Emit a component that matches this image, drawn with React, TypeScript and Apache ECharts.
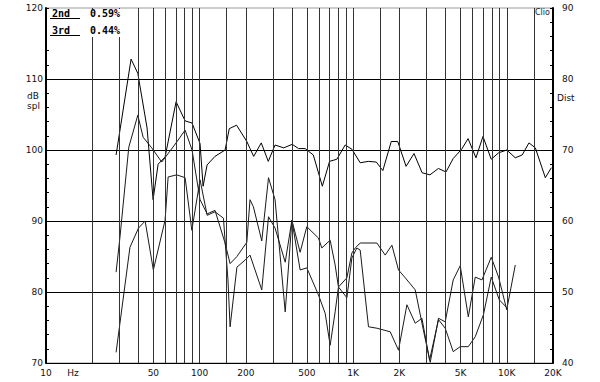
import React, { useEffect, useRef } from "react";
import * as echarts from "echarts";

// Frequency response (dB spl, left axis)
const respFreq = [28.6, 35.8, 39.6, 45.5, 49.8, 53.7, 59.6, 70.3, 80.5, 89.3, 100.7, 105.4, 111.9, 126, 146.6, 156, 174, 203, 213, 225, 252, 280, 310, 353, 401, 441, 487, 550, 630, 702, 783, 887, 982, 1111, 1255, 1415, 1560, 1770, 1950, 2210, 2490, 2810, 3160, 3590, 4020, 4480, 5080, 5600, 6300, 7000, 7920, 8850, 10000, 11360, 12600, 13950, 15350, 17830, 19500];
const respDb = [99.3, 112.8, 110.8, 103.1, 93, 98, 99, 106.8, 104.1, 103.8, 100.9, 94.9, 97.9, 99.1, 100, 103, 103.5, 101.2, 100.2, 99.1, 101, 98.4, 100.7, 100.3, 100.8, 100.2, 100.2, 99.3, 94.9, 98.4, 98.7, 100.7, 100.1, 98.2, 98.4, 98.3, 97.1, 101.2, 101.2, 97.7, 99.5, 96.8, 96.5, 97.4, 96.9, 98.8, 100.1, 101.6, 98.9, 101.9, 98.7, 99.6, 100, 98.9, 99.3, 101, 100.3, 96.1, 97.5];

// 2nd harmonic distortion (Dist, right axis)
const h2Freq = [28.6, 30.3, 34.6, 39.6, 42.9, 48.8, 56.7, 70.3, 80.5, 89.3, 100.7, 112, 126, 146, 158, 175, 203, 213, 224, 254, 281, 310, 361, 399, 451.5, 499, 594, 625, 708, 763, 802, 910, 981, 1057, 1111, 1258, 1427, 1742, 1973, 2238, 2535, 2803, 3142, 3595, 3974, 4480, 4977, 5620, 6234, 7050, 7924, 8938, 10000];
const h2Dist = [52.8, 57.7, 70.4, 74.9, 71.8, 70.3, 68.3, 71, 72.8, 70, 63, 61, 61.5, 57, 54, 55, 57, 63, 62, 57.2, 66.1, 63, 47.2, 60.1, 55.6, 59.2, 57.6, 56.2, 57.3, 53.8, 50.7, 49.2, 54.8, 56.2, 55.9, 45.1, 44.9, 44.4, 41.8, 48.2, 45.6, 46.3, 40.4, 46.1, 44.9, 41.6, 42.3, 42.3, 43.7, 46.8, 52.1, 48.9, 47.8];

// 3rd harmonic distortion (Dist, right axis)
const h3Freq = [28.6, 30.3, 35.2, 40, 44.2, 50, 59.6, 62.4, 71, 80.5, 89, 100.7, 112, 126, 143, 153, 158, 175, 198, 213, 254, 281, 310, 361, 399, 451.5, 499, 594, 657, 708, 763, 802, 910, 981, 1031, 1111, 1427, 1616, 1787, 1973, 2183, 2535, 2860, 3175, 3595, 3974, 4480, 4977, 5620, 6234, 6893, 7924, 8843, 10000, 11360];
const h3Dist = [41.5, 45.6, 56.3, 59, 60, 53.1, 60.1, 66.2, 66.5, 66.1, 58.7, 65.8, 60.8, 61.3, 60.4, 51.7, 45.1, 53.5, 54.5, 55.2, 50.3, 60.6, 59, 54.2, 60.1, 53.1, 53.4, 49.6, 47, 42.5, 47.2, 50.7, 52, 55.5, 56.2, 56.9, 56.9, 55.2, 56.6, 53.1, 52, 50.3, 44.7, 40.1, 46.3, 45.8, 51.7, 53.7, 46.5, 52.1, 51.7, 54.9, 52.1, 47.5, 53.8];

// Axis ticks / labels
const gridFreqs = [20, 30, 40, 50, 60, 70, 80, 90, 100, 150, 200, 300, 400, 500, 600, 700, 800, 900, 1000, 1500, 2000, 3000, 4000, 5000, 6000, 7000, 8000, 9000, 10000, 15000];
const freqLabelValues = [10, 15, 50, 100, 200, 500, 1000, 2000, 5000, 10000, 20000];
const freqLabelTexts = ["10", "Hz", "50", "100", "200", "500", "1K", "2K", "5K", "10K", "20K"];
const legendNames = ["2nd", "3rd"];
const legendValues = ["0.59%", "0.44%"];

export default function App() {
  const ref = useRef<HTMLDivElement>(null);
  useEffect(() => {
    const chart = echarts.init(ref.current!, null, { renderer: "svg" });
    const font = "DejaVu Sans";
    const pairs = (f: number[], v: number[]) => f.map((x, i) => [x, v[i]]);
    const labelFor = (v: number) => {
      for (let i = 0; i < freqLabelValues.length; i++) {
        if (Math.abs(v - freqLabelValues[i]) / freqLabelValues[i] < 0.01) return freqLabelTexts[i];
      }
      return "";
    };
    const lineColor = "#1a1a1a";
    chart.setOption({
      animation: false,
      backgroundColor: "#fff",
      grid: { left: 46, right: 47, top: 8, bottom: 19, show: true, borderColor: "#999", borderWidth: 1 },
      xAxis: {
        type: "log",
        logBase: 10,
        min: 10,
        max: 20000,
        axisLine: { show: true, lineStyle: { color: "#000", width: 1 } },
        axisTick: { show: false },
        splitLine: { show: false },
        minorTick: { show: false },
        minorSplitLine: { show: false },
        axisLabel: {
          customValues: freqLabelValues,
          formatter: (v: number) => labelFor(v),
          fontFamily: font,
          fontSize: 9,
          color: "#111",
          margin: 5,
        },
      },
      yAxis: [
        {
          type: "value",
          min: 70,
          max: 120,
          interval: 10,
          position: "left",
          axisLine: { show: true, lineStyle: { color: "#000", width: 2 } },
          axisTick: { show: true, inside: true, length: 3, lineStyle: { color: "#000" } },
          minorTick: { show: true, splitNumber: 5, length: 3, lineStyle: { color: "#000" } },
          splitLine: { show: true, showMinLine: false, showMaxLine: false, lineStyle: { color: "#000", width: 1 } },
          axisLabel: { fontFamily: font, fontSize: 9, color: "#111", margin: 3 },
        },
        {
          type: "value",
          min: 40,
          max: 90,
          interval: 10,
          position: "right",
          axisLine: { show: true, lineStyle: { color: "#000", width: 2 } },
          axisTick: { show: true, inside: true, length: 3, lineStyle: { color: "#000" } },
          minorTick: { show: true, splitNumber: 5, length: 3, lineStyle: { color: "#000" } },
          splitLine: { show: false },
          axisLabel: { fontFamily: font, fontSize: 9, color: "#111", margin: 9 },
        },
      ],
      graphic: [
        { type: "rect", z: 100, shape: { x: 47, y: 9, width: 89, height: 28 }, style: { fill: "#fff" } },
        { type: "text", z: 101, x: 52, y: 8.5, style: { text: legendNames[0], font: "bold 10px 'DejaVu Sans Mono'", fill: "#000", verticalAlign: "top" } },
        { type: "line", z: 101, shape: { x1: 50, y1: 18.5, x2: 80, y2: 18.5 }, style: { stroke: "#000", lineWidth: 1 } },
        { type: "text", z: 101, x: 90, y: 8.5, style: { text: legendValues[0], font: "bold 10px 'DejaVu Sans Mono'", fill: "#000", verticalAlign: "top" } },
        { type: "text", z: 101, x: 52, y: 25, style: { text: legendNames[1], font: "bold 10px 'DejaVu Sans Mono'", fill: "#000", verticalAlign: "top" } },
        { type: "line", z: 101, shape: { x1: 50, y1: 35.5, x2: 80, y2: 35.5 }, style: { stroke: "#000", lineWidth: 1 } },
        { type: "text", z: 101, x: 90, y: 25, style: { text: legendValues[1], font: "bold 10px 'DejaVu Sans Mono'", fill: "#000", verticalAlign: "top" } },
        { type: "text", z: 101, x: 535, y: 8.5, style: { text: "Clio", font: "8px 'DejaVu Sans'", fill: "#222", verticalAlign: "top" } },
        { type: "text", z: 101, x: 27, y: 91, style: { text: "dB", font: "9px 'DejaVu Sans'", fill: "#111", verticalAlign: "top" } },
        { type: "text", z: 101, x: 27, y: 101, style: { text: "spl", font: "9px 'DejaVu Sans'", fill: "#111", verticalAlign: "top" } },
        { type: "text", z: 101, x: 557, y: 93, style: { text: "Dist", font: "9px 'DejaVu Sans'", fill: "#111", verticalAlign: "top" } },
      ],
      series: [
        {
          type: "line",
          yAxisIndex: 0,
          data: pairs(respFreq, respDb),
          showSymbol: false,
          symbol: "none",
          lineStyle: { color: "#000", width: 1 },
          markLine: {
            silent: true,
            symbol: "none",
            label: { show: false },
            lineStyle: { color: "#333", type: "solid", width: 1 },
            data: gridFreqs.map((f) => ({ xAxis: f })),
          },
        },
        {
          type: "line",
          yAxisIndex: 1,
          data: pairs(h2Freq, h2Dist),
          showSymbol: false,
          symbol: "none",
          lineStyle: { color: lineColor, width: 1 },
        },
        {
          type: "line",
          yAxisIndex: 1,
          data: pairs(h3Freq, h3Dist),
          showSymbol: false,
          symbol: "none",
          lineStyle: { color: lineColor, width: 1 },
        },
      ],
    });
    return () => chart.dispose();
  }, []);
  return <div ref={ref} style={{ position: "absolute", left: 0, top: 0, width: 600, height: 382 }} />;
}
